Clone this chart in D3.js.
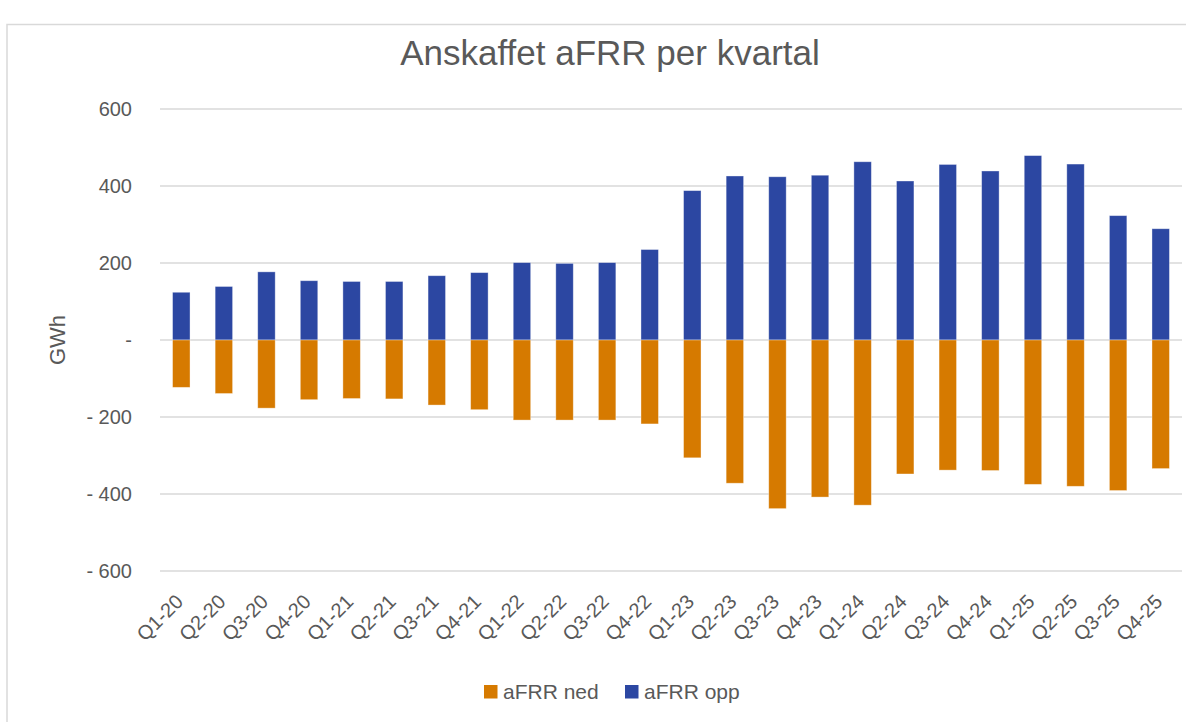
<!DOCTYPE html>
<html>
<head>
<meta charset="utf-8">
<script src="https://cdn.jsdelivr.net/npm/d3@7"></script>
<style>
  html, body { margin: 0; padding: 0; background: #fff; }
  svg { display: block; }
  text { font-family: "Liberation Sans", Arial, sans-serif; fill: #595959; }
</style>
</head>
<body>
<div id="chart"></div>
<script>
// Quarterly procured aFRR, GWh. Up is positive, down is drawn below zero.
const quarters = [
  "Q1-20", "Q2-20", "Q3-20", "Q4-20", "Q1-21", "Q2-21", "Q3-21", "Q4-21",
  "Q1-22", "Q2-22", "Q3-22", "Q4-22", "Q1-23", "Q2-23", "Q3-23", "Q4-23",
  "Q1-24", "Q2-24", "Q3-24", "Q4-24", "Q1-25", "Q2-25", "Q3-25", "Q4-25",
];
const afrrOpp = [
  124, 139, 177, 154, 152, 152, 167, 175, 201, 199, 201, 235,
  388, 426, 424, 428, 463, 413, 456, 439, 479, 457, 323, 289,
];
const afrrNed = [
  -123, -139, -177, -155, -152, -153, -169, -181, -208, -208, -208, -218,
  -306, -372, -438, -408, -429, -348, -338, -339, -375, -380, -391, -334,
];
const yTicks = [600, 400, 200, 0, -200, -400, -600];
const legendItems = [
  { label: "aFRR ned", color: "#D67A00" },
  { label: "aFRR opp", color: "#2C47A2" },
];

const width = 1200, height = 722;
const m = { top: 109, right: 18, bottom: 151, left: 160 };
const iw = width - m.left - m.right;
const ih = height - m.top - m.bottom;

const svg = d3.select("#chart").append("svg")
  .attr("width", width).attr("height", height).attr("viewBox", `0 0 ${width} ${height}`);

// chart frame: only the top and left edges fall inside the picture
svg.append("path").attr("d", "M7,722V24.5H1186")
  .attr("fill", "none").attr("stroke", "#d9d9d9").attr("stroke-width", 1.5);

svg.append("text").attr("x", 610).attr("y", 65).attr("text-anchor", "middle")
  .attr("font-size", 35).text("Anskaffet aFRR per kvartal");

const g = svg.append("g").attr("transform", `translate(${m.left},${m.top})`);

const x = d3.scaleBand().domain(quarters).range([0, iw]).paddingInner(0.59).paddingOuter(0.295);
const y = d3.scaleLinear().domain([-600, 600]).range([ih, 0]);

g.append("g").selectAll("line").data(yTicks).join("line")
  .attr("x1", 0).attr("x2", iw).attr("y1", (d) => y(d)).attr("y2", (d) => y(d))
  .attr("stroke", "#d9d9d9").attr("stroke-width", 1.4);

const fmt = (d) => (d === 0 ? "-" : d < 0 ? `- ${-d}` : String(d));
g.append("g").selectAll("text").data(yTicks).join("text")
  .attr("x", -28).attr("y", (d) => y(d)).attr("dy", "0.35em").attr("text-anchor", "end")
  .attr("font-size", 20).text(fmt);

g.append("text").attr("transform", `translate(${57 - m.left},${y(0)}) rotate(-90)`)
  .attr("text-anchor", "middle").attr("dy", "0.35em").attr("font-size", 22).text("GWh");

const drawBars = (values, color) => {
  g.append("g").selectAll("rect").data(values).join("rect")
    .attr("x", (d, i) => x(quarters[i]))
    .attr("y", (d) => y(Math.max(0, d)))
    .attr("width", x.bandwidth())
    .attr("height", (d) => Math.abs(y(d) - y(0)))
    .attr("fill", color)
    .attr("stroke", "#fff").attr("stroke-opacity", 0.45).attr("stroke-width", 0.8);
};
drawBars(afrrOpp, legendItems[1].color);
drawBars(afrrNed, legendItems[0].color);

g.append("g").selectAll("text").data(quarters).join("text")
  .attr("transform", (d) => `translate(${x(d) + x.bandwidth() / 2 + 3},${ih + 32}) rotate(-45)`)
  .attr("text-anchor", "end").attr("font-size", 20).text((d) => d);

const legend = svg.append("g").attr("transform", "translate(484,685)");
const offsets = [0, 141];
legend.selectAll("rect").data(legendItems).join("rect")
  .attr("x", (d, i) => offsets[i]).attr("y", 0).attr("width", 13.5).attr("height", 13.5)
  .attr("fill", (d) => d.color);
legend.selectAll("text").data(legendItems).join("text")
  .attr("x", (d, i) => offsets[i] + 19).attr("y", 6.8).attr("dy", "0.36em")
  .attr("font-size", 21).text((d) => d.label);
</script>
</body>
</html>
